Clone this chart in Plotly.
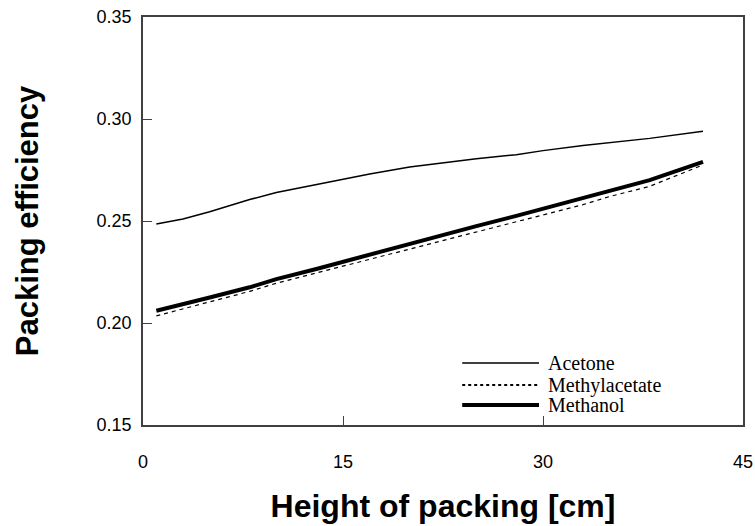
import plotly.graph_objects as go

height_cm = [1, 3, 5, 8, 10, 13, 15, 17, 20, 23, 25, 28, 30, 33, 35, 38, 42]
acetone = [0.2485, 0.251, 0.2545, 0.2605, 0.2640, 0.2680, 0.2705, 0.2730, 0.2765, 0.2790, 0.2805, 0.2825, 0.2845, 0.2870, 0.2885, 0.2905, 0.2940]
methylacetate = [0.2035, 0.2070, 0.2105, 0.2155, 0.2195, 0.2245, 0.2280, 0.2310, 0.2360, 0.2410, 0.2445, 0.2495, 0.2530, 0.2580, 0.2620, 0.2670, 0.2775]
methanol = [0.2060, 0.2090, 0.2125, 0.2175, 0.2215, 0.2265, 0.2300, 0.2340, 0.2390, 0.2440, 0.2475, 0.2525, 0.2560, 0.2615, 0.2650, 0.2700, 0.2790]

series_names = ["Acetone", "Methylacetate", "Methanol"]
series_values = [acetone, methylacetate, methanol]
series_styles = [dict(color="black", width=1.5),
                 dict(color="black", width=1.2, dash="4px,4px"),
                 dict(color="black", width=4)]

x_ticks = [0, 15, 30, 45]
y_ticks = [0.15, 0.20, 0.25, 0.30, 0.35]
y_tick_text = ["0.15", "0.20", "0.25", "0.30", "0.35"]

fig = go.Figure()
for name, vals, style in zip(series_names, series_values, series_styles):
    fig.add_trace(go.Scatter(x=height_cm, y=vals, mode="lines", name=name,
                             line=style, showlegend=False))

# legend drawn as line samples + text (bottom right inside plot)
legend_rows_y = [0.152, 0.098, 0.049]
for name, style, ly in zip(series_names, series_styles, legend_rows_y):
    dash = style.get("dash", "solid")
    fig.add_shape(type="line", xref="paper", yref="paper", x0=0.532, x1=0.660, y0=ly, y1=ly,
                  line=dict(color="black", width=style["width"] + (0.6 if dash != "solid" else 0),
                            dash="3px,3px" if dash != "solid" else "solid"))
    fig.add_annotation(xref="paper", yref="paper", x=0.672, y=ly, text=name, showarrow=False,
                       xanchor="left", yanchor="middle",
                       font=dict(family="Liberation Serif, Times New Roman", size=20, color="black"))

axis_common = dict(showgrid=False, zeroline=False, showline=True, linecolor="#404040",
                   linewidth=1.5, mirror=True, ticks="inside", ticklen=9, tickcolor="#404040",
                   automargin=False,
                   tickfont=dict(family="Liberation Sans, Arial", size=18, color="black"))

fig.update_xaxes(range=[0, 45], tickvals=x_ticks, ticklabelstandoff=20,
                 title=dict(text="<b>Height of packing [cm]</b>", standoff=23,
                            font=dict(family="Liberation Sans, Arial", size=32, color="black")),
                 **axis_common)
fig.update_yaxes(range=[0.15, 0.35], tickvals=y_ticks, ticktext=y_tick_text, ticklabelstandoff=6,
                 title=dict(text="<b>Packing efficiency</b>", standoff=49,
                            font=dict(family="Liberation Sans, Arial", size=31, color="black")),
                 **axis_common)

fig.update_layout(
    width=755, height=526,
    margin=dict(l=143, r=12, t=17, b=101),
    paper_bgcolor="white", plot_bgcolor="white",
    showlegend=False,
)

fig.write_html("out.html")
